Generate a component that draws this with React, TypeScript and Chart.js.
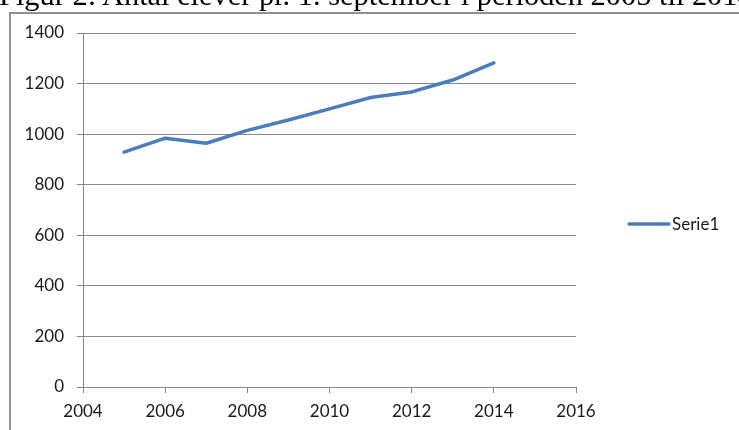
import React, { useEffect, useRef } from "react";
import { Chart, registerables } from "chart.js";

Chart.register(...registerables);

const titleText = "Figur 2: Antal elever pr. 1. september i perioden 2005 til 2014";
const seriesLabel = "Serie1";
const years = [2005, 2006, 2007, 2008, 2009, 2010, 2011, 2012, 2013, 2014];
const students = [929, 984, 964, 1015, 1056, 1100, 1145, 1167, 1214, 1282];
const xMin = 2004;
const xMax = 2016;
const xStep = 2;
const yMin = 0;
const yMax = 1400;
const yStep = 200;

const FONT = "Lato, 'Liberation Sans', sans-serif";
const GRID = "#868686";
const LINE = "#4A7EBB";
const TEXT = "#1a1a1a";

const legendPlugin = {
  id: "sideLegend",
  afterDraw(chart: any) {
    const ctx = chart.ctx;
    const ds = chart.data.datasets[0];
    const y = 224;
    ctx.save();
    ctx.strokeStyle = ds.borderColor;
    ctx.lineWidth = 3.5;
    ctx.lineCap = "round";
    ctx.beginPath();
    ctx.moveTo(629, y);
    ctx.lineTo(669, y);
    ctx.stroke();
    ctx.fillStyle = TEXT;
    ctx.font = `17px ${FONT}`;
    ctx.textBaseline = "middle";
    ctx.textAlign = "left";
    ctx.fillText(ds.label, 672, y + 1);
    ctx.restore();
  },
};

export default function App() {
  const canvasRef = useRef<HTMLCanvasElement | null>(null);

  useEffect(() => {
    const canvas = canvasRef.current;
    if (!canvas) return;
    const chart = new Chart(canvas, {
      type: "line",
      data: {
        datasets: [
          {
            label: seriesLabel,
            data: years.map((x, i) => ({ x, y: students[i] })),
            borderColor: LINE,
            backgroundColor: LINE,
            borderWidth: 3.5,
            pointRadius: 0,
            borderCapStyle: "round",
            borderJoinStyle: "round",
            tension: 0,
            fill: false,
          },
        ],
      },
      options: {
        responsive: false,
        animation: false,
        layout: { padding: { left: 0, top: 33, right: 163, bottom: 0 } },
        plugins: {
          legend: { display: false },
          title: { display: false },
          tooltip: { enabled: false },
        },
        scales: {
          x: {
            type: "linear",
            min: xMin,
            max: xMax,
            afterFit: (s: any) => {
              s.height = 43;
            },
            ticks: {
              stepSize: xStep,
              padding: 8,
              color: TEXT,
              font: { family: FONT, size: 17 },
              maxRotation: 0,
              callback: (v: any) => String(v),
            },
            grid: {
              drawOnChartArea: false,
              drawTicks: true,
              tickLength: 6,
              color: GRID,
              lineWidth: 1,
            },
            border: { display: true, color: GRID, width: 1 },
          },
          y: {
            type: "linear",
            min: yMin,
            max: yMax,
            afterFit: (s: any) => {
              s.width = 83;
            },
            ticks: {
              stepSize: yStep,
              padding: 13,
              color: TEXT,
              font: { family: FONT, size: 17 },
              callback: (v: any) => String(v),
            },
            grid: {
              drawOnChartArea: true,
              drawTicks: true,
              tickLength: 6,
              color: GRID,
              lineWidth: 1,
            },
            border: { display: true, color: GRID, width: 1 },
          },
        },
      },
      plugins: [legendPlugin],
    });
    return () => chart.destroy();
  }, []);

  return (
    <div
      style={{
        position: "fixed",
        left: 0,
        top: 0,
        width: 739,
        height: 430,
        overflow: "hidden",
        background: "#fff",
      }}
    >
      <div
        style={{
          position: "absolute",
          left: 9,
          top: 12,
          width: 800,
          height: 500,
          borderLeft: "2px solid #909090",
          borderTop: "2px solid #909090",
          boxSizing: "border-box",
        }}
      />
      <canvas
        ref={canvasRef}
        width={739}
        height={430}
        style={{ position: "absolute", left: 0, top: 0, width: 739, height: 430 }}
      />
      <div
        style={{
          position: "absolute",
          left: -1,
          top: -20,
          fontFamily: "'Liberation Serif', 'Times New Roman', serif",
          fontSize: 30.4,
          lineHeight: "30px",
          whiteSpace: "nowrap",
          color: "#000",
        }}
      >
        {titleText}
      </div>
    </div>
  );
}
